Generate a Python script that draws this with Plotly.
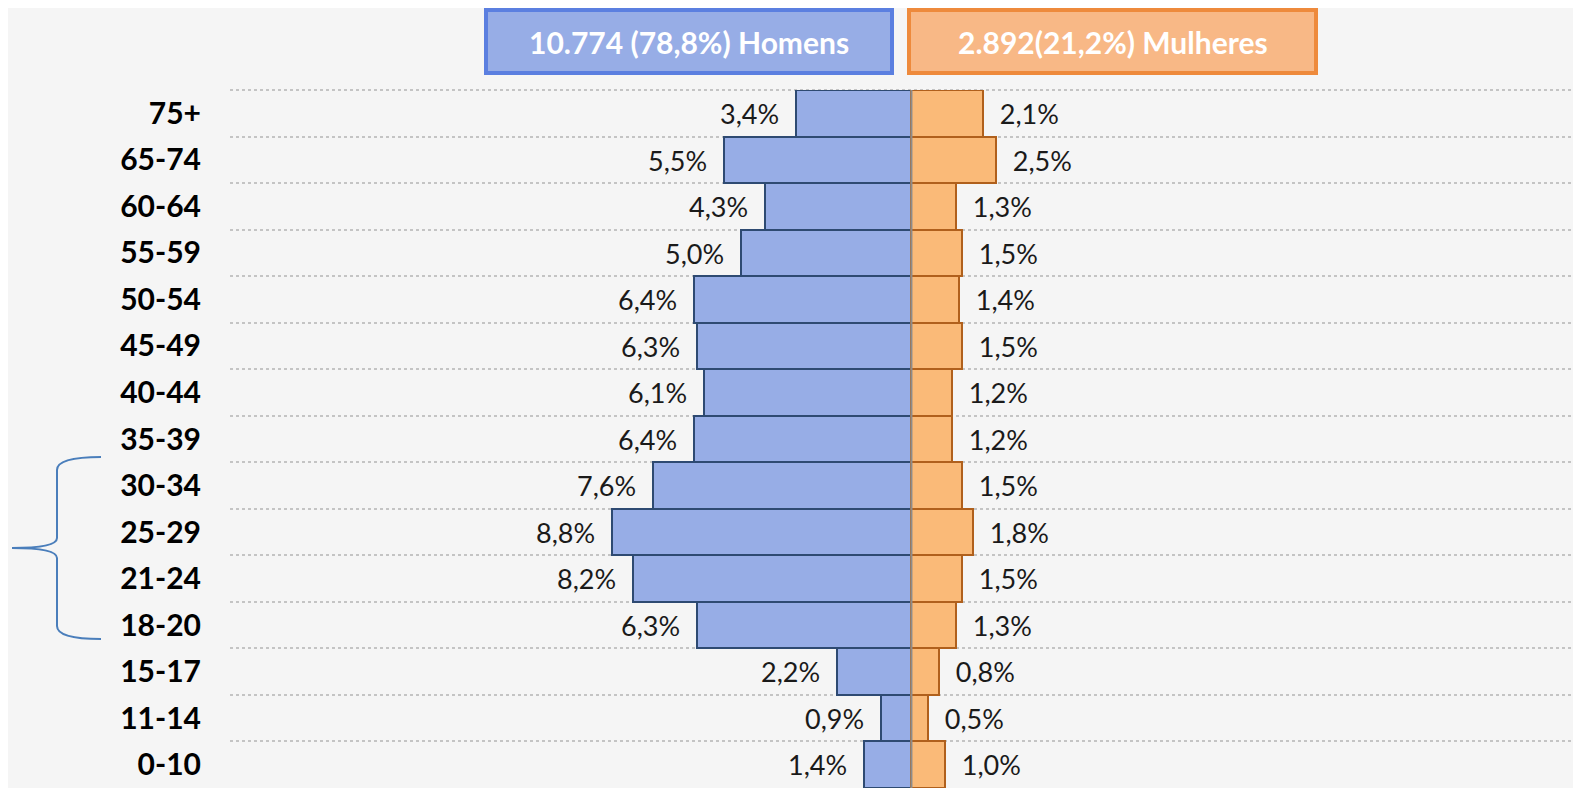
import plotly.graph_objects as go

# Age groups, top to bottom
faixas = ["75+", "65-74", "60-64", "55-59", "50-54", "45-49", "40-44", "35-39",
          "30-34", "25-29", "21-24", "18-20", "15-17", "11-14", "0-10"]
homens = [3.4, 5.5, 4.3, 5.0, 6.4, 6.3, 6.1, 6.4, 7.6, 8.8, 8.2, 6.3, 2.2, 0.9, 1.4]
mulheres = [2.1, 2.5, 1.3, 1.5, 1.4, 1.5, 1.2, 1.2, 1.5, 1.8, 1.5, 1.3, 0.8, 0.5, 1.0]
titulo_homens = "10.774 (78,8%) Homens"
titulo_mulheres = "2.892(21,2%) Mulheres"

# page is 1581x788 but the body has an 8px margin
OFF = 8
W, H = 1581 - OFF, 788 - OFF
M = {"l": 230 - OFF, "r": 0, "t": 90 - OFF, "b": 0}
FONT = "Lato"
NBSP = "\u00a0"
GRID = "#C4C4C4"


def px(x, y):
    """screen pixel position -> paper coordinates"""
    x, y = x - OFF, y - OFF
    return ((x - M["l"]) / (W - M["l"] - M["r"]), (H - M["b"] - y) / (H - M["t"] - M["b"]))


def fmt(v):
    return f"{v:.1f}".replace(".", ",") + "%"


fig = go.Figure()

fig.add_trace(
    go.Bar(
        y=faixas,
        x=[-v for v in homens],
        orientation="h",
        marker={"color": "#97ADE6", "line": {"color": "#2E4A72", "width": 2}},
        text=[fmt(v) + NBSP * 2 for v in homens],
        textposition="outside",
        constraintext="none",
        cliponaxis=False,
        textfont={"family": FONT, "size": 27, "color": "#1a1a1a"},
        showlegend=False,
    )
)
fig.add_trace(
    go.Bar(
        y=faixas,
        x=mulheres,
        orientation="h",
        marker={"color": "#FABA78", "line": {"color": "#B0601C", "width": 2}},
        text=[NBSP * 2 + fmt(v) for v in mulheres],
        textposition="outside",
        constraintext="none",
        cliponaxis=False,
        textfont={"family": FONT, "size": 27, "color": "#1a1a1a"},
        showlegend=False,
    )
)

# centre line and the dotted line on top of the first row
fig.add_vline(x=0, line={"color": "#8C8C8C", "width": 2}, layer="above")
fig.add_shape(type="line", xref="paper", yref="paper", x0=0, x1=1, y0=1, y1=1,
              line={"color": GRID, "width": 2, "dash": "dot"}, layer="below")

# header boxes
boxes = [
    (486, 892, "#97ADE6", "#5B7FE0", titulo_homens),
    (909, 1316, "#F8B886", "#EE8A3C", titulo_mulheres),
]
for x0, x1, fill, line, label in boxes:
    a = px(x0, 10)
    b = px(x1, 73)
    fig.add_shape(type="rect", xref="paper", yref="paper", x0=a[0], y0=b[1], x1=b[0], y1=a[1],
                  fillcolor=fill, line={"color": line, "width": 4})
    c = px((x0 + x1) / 2, 42)
    fig.add_annotation(text=f"<b>{label}</b>", xref="paper", yref="paper", x=c[0], y=c[1],
                       xanchor="center", yanchor="middle", showarrow=False,
                       font={"family": FONT, "size": 30, "color": "white"})

# brace around 18-34
pts = [(101, 457), (57, 457), (57, 470), (57, 538), (57, 548), (12, 548), (57, 548),
       (57, 558), (57, 626), (57, 639), (101, 639)]
p = [px(x, y) for x, y in pts]
path = (f"M {p[0][0]},{p[0][1]} Q {p[1][0]},{p[1][1]} {p[2][0]},{p[2][1]} "
        f"L {p[3][0]},{p[3][1]} Q {p[4][0]},{p[4][1]} {p[5][0]},{p[5][1]} "
        f"Q {p[6][0]},{p[6][1]} {p[7][0]},{p[7][1]} "
        f"L {p[8][0]},{p[8][1]} Q {p[9][0]},{p[9][1]} {p[10][0]},{p[10][1]}")
fig.add_shape(type="path", xref="paper", yref="paper", path=path,
              line={"color": "#4A7EBB", "width": 2})

fig.update_layout(
    width=W,
    height=H,
    margin=M,
    paper_bgcolor="#F5F5F5",
    plot_bgcolor="#F5F5F5",
    barmode="relative",
    bargap=0,
    xaxis={"range": [-20.04, 19.69], "showgrid": False, "zeroline": False,
           "showticklabels": False, "fixedrange": True},
    yaxis={
        "type": "category",
        "range": [len(faixas) - 0.5, -0.5],
        "tickson": "boundaries",
        "showgrid": True,
        "gridcolor": GRID,
        "griddash": "dot",
        "gridwidth": 2,
        "ticks": "",
        "ticklabelstandoff": 28,
        "tickfont": {"family": FONT, "size": 30, "color": "black", "weight": "bold"},
        "fixedrange": True,
    },
)

fig.write_html("out.html")
